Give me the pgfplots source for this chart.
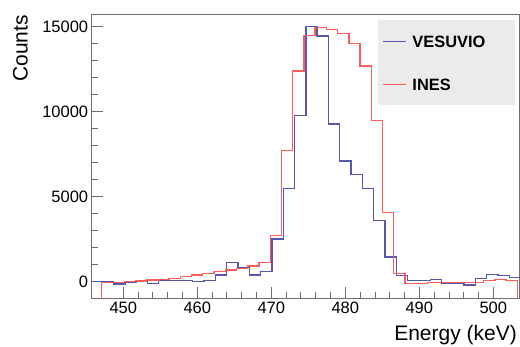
\documentclass[border=0pt]{standalone}
\usepackage{pgfplots}
\pgfplotsset{compat=1.18}
\usepackage{fontspec}
\setmainfont{Liberation Sans}
\definecolor{vesblue}{rgb}{0.34,0.34,0.70}
\definecolor{inesred}{rgb}{1,0.36,0.36}
\definecolor{framegray}{RGB}{110,110,110}
\begin{document}
\begin{tikzpicture}
\useasboundingbox (-91.7pt,-48pt) rectangle (428.3pt,298pt);
\begin{axis}[
  scale only axis,
  width=427.8pt, height=284pt,
  xmin=445.73, xmax=503.54,
  ymin=-960, ymax=15750,
  xtick={450,460,470,480,490,500},
  ytick={0,5000,10000,15000},
  scaled y ticks=false,
  scaled x ticks=false,
  minor x tick num=4,
  minor y tick num=4,
  xtick pos=left, ytick pos=left,
  tick align=inside,
  major tick length=11pt,
  minor tick length=6pt,
  axis line style={framegray, line width=0.8pt},
  every tick/.style={framegray, line width=0.8pt},
  /pgf/number format/assume math mode=true,
  /pgf/number format/1000 sep={},
  tick label style={font=\fontsize{16.5}{18}\selectfont},
  xlabel={Energy (keV)},
  ylabel={Counts},
  label style={font=\fontsize{21}{24}\selectfont},
  xlabel style={at={(axis description cs:0.9942,-0.1514)}, anchor=base east, inner sep=0pt},
  ylabel style={at={(axis description cs:-0.1489,0.9965)}, anchor=south east, inner sep=0pt},
  legend style={at={(rel axis cs:1,1)}, anchor=north east, xshift=-4.5pt, yshift=-6pt,
    fill={rgb,255:red,235;green,235;blue,235}, draw=none,
    font=\fontsize{16.4}{18}\selectfont\bfseries,
    inner xsep=5pt, inner ysep=15pt, row sep=31pt, column sep=5.7pt,
    nodes={inner sep=0pt, text height=12pt, text depth=0pt, anchor=base}},
  legend cell align=left,
  legend image code/.code={\draw[#1, line width=1.1pt] (0pt,5.5pt) -- (23pt,5.5pt);},
  clip=true,
]
\addplot[const plot mark left, draw=vesblue, line width=1.3pt] coordinates {
(445.63,0) (447.16,0) (448.69,-130) (450.22,-60) (451.75,0) (453.27,-100)
(454.80,50) (456.33,80) (457.86,50) (459.39,0) (460.91,80) (462.44,390)
(463.97,1130) (465.50,830) (467.03,400) (468.55,590) (470.08,2510)
(471.61,5490) (473.14,9780) (474.67,15000) (476.19,14450) (477.72,9276)
(479.25,7100) (480.78,6320) (482.31,5490) (483.83,3590) (485.36,1450)
(486.89,370) (488.42,60) (489.95,60) (491.47,140) (493.00,-120)
(494.53,-100) (496.06,-200) (497.59,200) (499.11,430) (500.64,350)
(502.17,230) (503.70,230)
};
\addlegendentry{\makebox[97.3pt][l]{VESUVIO}}
\addplot[const plot mark left, draw=inesred, line width=1.3pt] coordinates {
(447.08,-960) (447.08,-60) (448.60,-40) (450.12,0) (451.63,40) (453.15,100)
(454.67,140) (456.19,200) (457.71,300) (459.22,400) (460.74,490)
(462.26,590) (463.78,690) (465.30,790) (466.81,920) (468.33,1120)
(469.85,2706) (471.37,7700) (472.89,12390) (474.40,14470) (475.92,14965)
(477.44,14850) (478.96,14610) (480.48,14020) (481.99,12690) (483.51,9470)
(485.03,4060) (486.55,470) (488.07,-100) (489.58,-100) (491.10,-60)
(492.62,-50) (494.14,-60) (495.66,-60) (497.17,-40) (498.69,60)
(500.21,130) (501.73,50) (503.25,50) (503.25,-960)
};
\addlegendentry{\makebox[97.3pt][l]{INES}}
\end{axis}
\end{tikzpicture}
\end{document}
